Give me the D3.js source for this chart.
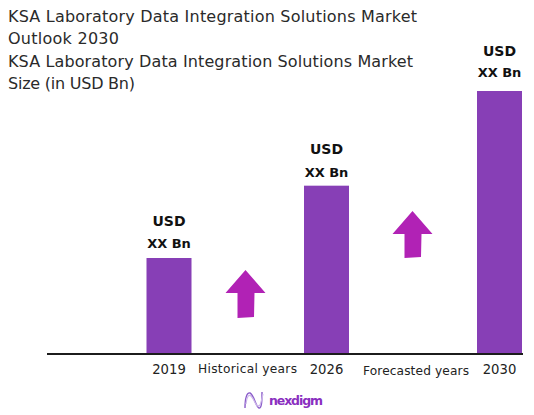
<!DOCTYPE html>
<html><head><meta charset="utf-8">
<script src="https://cdnjs.cloudflare.com/ajax/libs/d3/7.8.5/d3.min.js"></script>
<style>html,body{margin:0;background:#fff}svg{display:block}text{font-family:"DejaVu Sans",sans-serif}</style>
</head><body><svg id="c" width="534" height="415"></svg>
<script>
const titleLines = ["KSA Laboratory Data Integration Solutions Market","Outlook 2030","KSA Laboratory Data Integration Solutions Market","Size (in USD Bn)"];
const years = ["2019","2026","2030"];
const values = [36.5,64,100];
const valueLabels = ["USD","XX Bn"];
const periods = ["Historical years","Forecasted years"];
const brand = "nexdigm";

const svg = d3.select("#c");
const x = d3.scaleOrdinal().domain(years).range([169,326.5,499.5]);
const y = d3.scaleLinear().domain([0,100]).range([354,91]);
const barW = 45;

svg.selectAll("text.t").data(titleLines).join("text").attr("class","t")
  .attr("x",8).attr("y",(d,i)=>[22,44,67,89][i])
  .attr("font-size",16).attr("fill","#2a2a2a").attr("textLength",(d,i)=>[409,111,405,127][i])
  .text(d=>d);

svg.selectAll("rect.b").data(years).join("rect").attr("class","b")
  .attr("x",d=>x(d)-barW/2).attr("width",barW)
  .attr("y",(d,i)=>y(values[i])).attr("height",(d,i)=>y(0)-y(values[i]))
  .attr("fill","#873fb6");

svg.append("line").attr("x1",47).attr("x2",523).attr("y1",y(0)).attr("y2",y(0))
  .attr("stroke","#1c1c1c").attr("stroke-width",2);

const labelOffsets = [[32,10],[32,9],[35,14]];
years.forEach((yr,i)=>{
  valueLabels.forEach((t,j)=>{
    svg.append("text").attr("x",x(yr)).attr("y",y(values[i])-labelOffsets[i][j])
      .attr("text-anchor","middle").attr("font-size",[14,13][j]).attr("font-weight",700)
      .attr("fill","#111").text(t);
  });
  svg.append("text").attr("x",x(yr)).attr("y",374).attr("text-anchor","middle")
    .attr("font-size",13.2).attr("fill","#222").text(yr);
});

const pCenter = d3.scaleOrdinal().domain(periods).range([247.5,416]);
svg.selectAll("text.p").data(periods).join("text").attr("class","p")
  .attr("x",d=>pCenter(d)).attr("y",(d,i)=>[373,375][i]).attr("text-anchor","middle")
  .attr("font-size",12.2).attr("fill","#222").attr("textLength",(d,i)=>[99,106][i]).text(d=>d);

const arrow = d3.line();
[[245.5,270,47],[412.5,211,46]].forEach(([cx,top,h])=>{
  const pts=[[cx,top],[cx+20,top+23],[cx+9,top+23],[cx+8.5,top+h],[cx-8,top+h+1],[cx-8,top+23],[cx-20,top+23]];
  svg.append("path").attr("d",arrow(pts)+"Z").attr("fill","#b122b5");
});

["M245 408C245 398 247 392 250 393C254 395 256 407 259 408C262 409 262 398 262 392",
 "M246 404C247 396 249 394 251 396C255 400 256 409 260 405C261 403 262 398 263 394"].forEach((d,i)=>{
  svg.append("path").attr("d",d).attr("fill","none")
    .attr("stroke",["#8a5cc9","#cdb6ea"][i]).attr("stroke-width",[1.4,1.2][i]);
});
svg.append("text").attr("x",269).attr("y",405).attr("font-size",12.5).attr("font-weight",700)
  .attr("fill","#8a2fc0").attr("textLength",54).text(brand);
</script></body></html>
